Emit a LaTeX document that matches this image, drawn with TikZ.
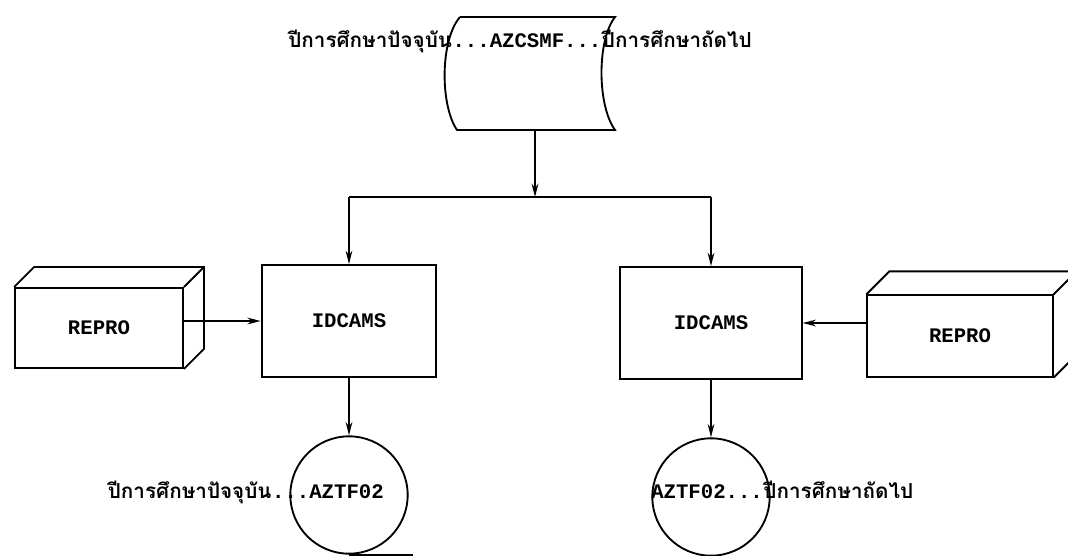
\documentclass[tikz,border=0pt]{standalone}
\usepackage{fontspec}
\setmonofont{Liberation Mono}
\newfontfamily\thaifont[Script=Thai]{Loma}
\usepackage{tikz}
\usetikzlibrary{arrows.meta,calc,positioning}

\tikzset{
  flow/.style={line width=1.3pt,-{Stealth[length=10pt,width=5pt]}},
  procbox/.style={draw,line width=1.4pt,rectangle,inner sep=0pt,
    font=\ttfamily\bfseries\fontsize{15.5}{18}\selectfont},
  cubebox/.style={procbox},
  tapedisk/.style={draw,line width=1.4pt,circle,inner sep=0pt,minimum size=88pt,
    font=\ttfamily\bfseries\fontsize{15.5}{18}\selectfont},
  lbl/.style={inner sep=0pt,font=\ttfamily\bfseries\fontsize{15.5}{18}\selectfont},
  thai/.style={inner sep=0pt,font=\thaifont\bfseries\fontsize{15.5}{18}\selectfont}
}

\begin{document}
\begin{tikzpicture}[x=0.75pt,y=-0.75pt]
\useasboundingbox[fill=white] (0,0) rectangle (1068,556);

% stored file
\draw[line width=1.4pt] (460,17) -- (615,17)
  .. controls (597,40) and (597,105) .. (615,130) -- (457,130)
  .. controls (440,105) and (440,40) .. (460,17);
\coordinate (tapebot) at (535,130);
\coordinate (split) at (535,197);
\node[lbl,anchor=base] (tapelbl) at (527,48) {...AZCSMF...};
\node[thai,anchor=base east] (tapecur) at (tapelbl.base west) {ปีการศึกษาปัจจุบัน};
\node[thai,anchor=base west] (tapenext) at (tapelbl.base east) {ปีการศึกษาถัดไป};

% programs
\node[procbox,minimum width=131pt,minimum height=84pt] (lbox) at (349,321) {IDCAMS};
\node[procbox,minimum width=136pt,minimum height=84pt] (rbox) at (711,323) {IDCAMS};

% REPRO cards
\node[cubebox,minimum width=126pt,minimum height=60pt] (lrepro) at (99,328) {REPRO};
\draw[line width=1.4pt] (lrepro.north west) -- ++(20,-20) -- ($(lrepro.north east)+(20,-20)$)
  -- ($(lrepro.south east)+(20,-20)$) -- (lrepro.south east);
\draw[line width=1.4pt] (lrepro.north east) -- ++(20,-20);
\node[cubebox,minimum width=139pt,minimum height=61pt] (rrepro) at (960,336) {REPRO};
\draw[line width=1.4pt] (rrepro.north west) -- ++(23,-23) -- ($(rrepro.north east)+(23,-23)$)
  -- ($(rrepro.south east)+(23,-23)$) -- (rrepro.south east);
\draw[line width=1.4pt] (rrepro.north east) -- ++(23,-23);

% output tapes
\node[tapedisk] (lcirc) at (349,495) {};
\draw[line width=1.4pt] (lcirc.south) -- ++(64,0);
\node[tapedisk] (rcirc) at (711,497) {};
\node[lbl,anchor=base east] (oldlbl) at (384,498) {...AZTF02};
\node[thai,anchor=base east] (oldcur) at (oldlbl.base west) {ปีการศึกษาปัจจุบัน};
\node[lbl,anchor=base west] (newlbl) at (651,498) {AZTF02...};
\node[thai,anchor=base west] (newnext) at (newlbl.base east) {ปีการศึกษาถัดไป};

% connectors
\draw[flow] (tapebot) -- (split);
\draw[line width=1.3pt] (lbox.north |- split) -- (rbox.north |- split);
\draw[flow] (lbox.north |- split) -- (lbox.north);
\draw[flow] (rbox.north |- split) -- (rbox.north);
\draw[flow] (lrepro.east |- lbox.west) -- (lbox.west);
\draw[flow] (rrepro.west |- rbox.east) -- (rbox.east);
\draw[flow] (lbox.south) -- (lcirc.north);
\draw[flow] (rbox.south) -- (rcirc.north);
\end{tikzpicture}
\end{document}
